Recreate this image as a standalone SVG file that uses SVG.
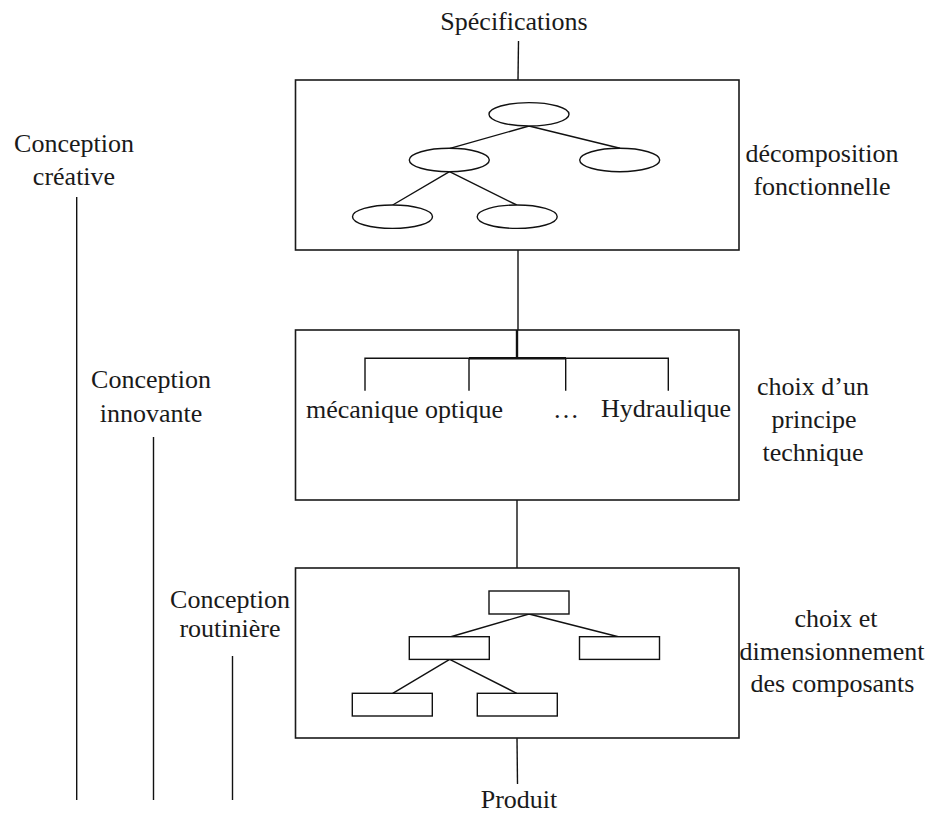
<svg xmlns="http://www.w3.org/2000/svg" width="929" height="814" viewBox="0 0 929 814">
<style>
text{font-family:"Liberation Serif","Times New Roman",serif;font-size:26px;fill:#1a1a1a}
.c{text-anchor:middle}
.box{fill:#fff;stroke:#1a1a1a;stroke-width:1.6}
.sh{fill:#fff;stroke:#111;stroke-width:1.4}
.ln{stroke:#111;stroke-width:1.4;fill:none}
</style>
<rect width="929" height="814" fill="#fff"/>
<g id="connectors">
<line class="ln" x1="518.5" y1="41" x2="518" y2="80"/>
<line class="ln" x1="518" y1="250" x2="518" y2="330"/>
<line class="ln" x1="517" y1="500" x2="517" y2="568"/>
<line class="ln" x1="517" y1="738" x2="517.5" y2="784"/>
<line class="ln" x1="76.7" y1="197" x2="76.7" y2="800"/>
<line class="ln" x1="153.5" y1="437" x2="153.5" y2="800"/>
<line class="ln" x1="232.5" y1="656" x2="232.5" y2="800"/>
</g>
<g id="spec"><text class="c" x="514" y="30">Spécifications</text></g>
<g id="produit"><text class="c" x="519" y="808">Produit</text></g>
<g id="creative"><text class="c" x="74" y="152">Conception</text><text class="c" x="74" y="185">créative</text></g>
<g id="innovante"><text class="c" x="151" y="388">Conception</text><text class="c" x="151" y="422">innovante</text></g>
<g id="routiniere"><text class="c" x="230" y="608">Conception</text><text class="c" x="230" y="637">routinière</text></g>
<g id="box1">
<rect class="box" x="295.5" y="80" width="443.5" height="170"/>
<path class="ln" d="M529 126L450 148.3M529 126L620 148.3M449.5 171.7L392.7 205M449.5 171.7L516.7 205"/>
<ellipse class="sh" cx="529" cy="114.3" rx="40" ry="11.7"/>
<ellipse class="sh" cx="449.3" cy="160" rx="40" ry="11.7"/>
<ellipse class="sh" cx="619.7" cy="160" rx="40" ry="11.7"/>
<ellipse class="sh" cx="392.5" cy="216.7" rx="40" ry="11.7"/>
<ellipse class="sh" cx="517.2" cy="216.7" rx="40" ry="11.7"/>
</g>
<g id="label1"><text class="c" x="822" y="162">décomposition</text><text class="c" x="822" y="195">fonctionnelle</text></g>
<g id="box2">
<rect class="box" x="295.5" y="330" width="443.5" height="170"/>
<path class="ln" d="M517 330V358.3M365 390.7V358.3H668.3V390.7M469 358.3V390.7M565.7 358.3V390.7"/>
<path d="M469 358.3H566M517 330V358.3" stroke="#111" stroke-width="2.4" fill="none"/>
<text x="306" y="418">mécanique optique</text>
<text x="553" y="418">…</text>
<text x="601" y="417">Hydraulique</text>
</g>
<g id="label2"><text class="c" x="813" y="395">choix d’un</text><text class="c" x="814" y="428">principe</text><text class="c" x="813" y="461">technique</text></g>
<g id="box3">
<rect class="box" x="295.5" y="568" width="443.5" height="170"/>
<path class="ln" d="M529 614L450 637M529 614L619.3 637M449.7 659.3L392.7 693.3M449.7 659.3L516.7 693.3"/>
<rect class="sh" x="489" y="591" width="80" height="23"/>
<rect class="sh" x="409.3" y="636.7" width="80" height="22.7"/>
<rect class="sh" x="579.5" y="636.7" width="80" height="22.7"/>
<rect class="sh" x="352.3" y="693.3" width="80" height="22.7"/>
<rect class="sh" x="477.3" y="693.3" width="80" height="22.7"/>
</g>
<g id="label3"><text class="c" x="836" y="627">choix et</text><text class="c" x="832" y="660">dimensionnement</text><text class="c" x="832.5" y="692">des composants</text></g>
</svg>
